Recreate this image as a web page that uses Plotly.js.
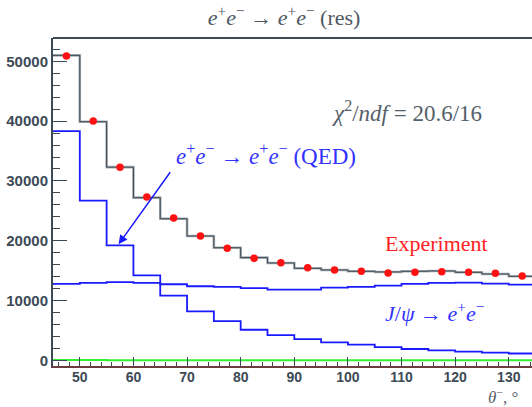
<!DOCTYPE html>
<html>
<head>
<meta charset="utf-8">
<script src="https://cdn.plot.ly/plotly-3.0.1.min.js"></script>
<style>html,body{margin:0;padding:0;background:#fff;}#chart{width:532px;height:407px;}</style>
</head>
<body>
<div id="chart"></div>
<script>
// bin centres (theta^-, degrees), bin width 5
const binCenters = [47.5, 52.5, 57.5, 62.5, 67.5, 72.5, 77.5, 82.5, 87.5, 92.5, 97.5, 102.5, 107.5, 112.5, 117.5, 122.5, 127.5, 132.5];
const binWidth = 5;
const experiment = [50900, 40000, 32300, 27300, 23780, 20780, 18720, 17050, 16330, 15500, 15110, 14890, 14610, 14720, 14830, 14720, 14560, 14110];
const fitTotal   = [51000, 39900, 32300, 27200, 23670, 20780, 18830, 17170, 16280, 15390, 15110, 14890, 14780, 14890, 14940, 14720, 14440, 14050];
const jpsi       = [12780, 12940, 13060, 12940, 12720, 12390, 12280, 12060, 11830, 11830, 12170, 12280, 12500, 12780, 12940, 13000, 12830, 12670];
const qed        = [38330, 26720, 19220, 14220, 10830, 8170, 6560, 5110, 4220, 3560, 3000, 2610, 2220, 1890, 1670, 1450, 1280, 1140];
const background = [40, 40, 30, 30, 30, 30, 30, 30, 30, 30, 30, 30, 30, 30, 30, 30, 30, 30];
const xTickVals = [50, 60, 70, 80, 90, 100, 110, 120, 130];
const yTickVals = [0, 10000, 20000, 30000, 40000, 50000];

function stepTrace(vals, color, width) {
  const xs = binCenters.map(c => c - binWidth / 2);
  xs.push(binCenters[binCenters.length - 1] + binWidth / 2);
  const ys = vals.slice();
  ys.push(vals[vals.length - 1]);
  return {x: xs, y: ys, type: 'scatter', mode: 'lines',
          line: {shape: 'hv', color: color, width: width}, hoverinfo: 'skip', showlegend: false};
}

const traces = [
  stepTrace(background, '#33ee33', 2),
  stepTrace(jpsi, '#1a1aff', 1.8),
  stepTrace(qed, '#1a1aff', 1.8),
  stepTrace(fitTotal, '#a9b0b5', 2.6),
  stepTrace(fitTotal, '#3b4650', 1),
  {x: binCenters, y: experiment, type: 'scatter', mode: 'markers',
   marker: {color: '#ff1111', size: 7.5}, showlegend: false}
];

const grey = '#3c4a56';
const yTickFont = {family: 'Liberation Sans, Arial, sans-serif', size: 15, color: grey, weight: 700};
const xTickFont = {family: 'Liberation Sans, Arial, sans-serif', size: 14, color: grey, weight: 700};
const serif = 'Liberation Serif, Times New Roman, serif';

function note(x, y, text, size, color) {
  return {xref: 'paper', yref: 'paper', x: x, y: y, xanchor: 'center', yanchor: 'middle',
          showarrow: false, text: text, font: {family: serif, size: size, color: color}};
}

const layout = {
  width: 532, height: 407,
  margin: {l: 53, r: 0, t: 38, b: 41},
  paper_bgcolor: '#fff', plot_bgcolor: '#fff',
  showlegend: false,
  title: {text: '<i>e</i><sup>+</sup><i>e</i><sup>−</sup> → <i>e</i><sup>+</sup><i>e</i><sup>−</sup> (res)',
          x: 0.534, xanchor: 'center', y: 0.958, yanchor: 'middle',
          font: {family: serif, size: 22, color: '#4d5963'}},
  xaxis: {range: [45, 134.33], tickvals: xTickVals, ticks: 'inside', ticklen: 9, tickwidth: 1, tickcolor: grey,
          minor: {dtick: 2, ticks: 'inside', ticklen: 4, tickcolor: grey, showgrid: false},
          showgrid: false, zeroline: false, showline: true, linecolor: '#6b3d3f', linewidth: 2,
          tickfont: xTickFont, tickformat: 'd', ticklabelstandoff: -3},
  yaxis: {range: [-950, 53900], tickvals: yTickVals, ticks: 'inside', ticklen: 14, tickwidth: 1, tickcolor: grey,
          minor: {dtick: 2000, ticks: 'inside', ticklen: 7, tickcolor: grey, showgrid: false},
          showgrid: false, zeroline: false, showline: true, linecolor: grey, linewidth: 2,
          tickfont: yTickFont, tickformat: 'd'},
  shapes: [
    {type: 'line', xref: 'paper', yref: 'paper', x0: 0, x1: 1, y0: 1, y1: 1, line: {color: grey, width: 2}}
  ],
  annotations: [
    note(0.739, 0.775, '<i>χ</i><sup>2</sup>/<i>ndf</i> = 20.6/16', 23, '#55606a'),
    note(0.4457, 0.646, '<i>e</i><sup>+</sup><i>e</i><sup>−</sup> → <i>e</i><sup>+</sup><i>e</i><sup>−</sup> (QED)', 23, '#3333ff'),
    note(0.7996, 0.372, 'Experiment', 22, '#ff2222'),
    note(0.797, 0.165, '<i>J</i>/<i>ψ</i> → <i>e</i><sup>+</sup><i>e</i><sup>−</sup>', 22, '#3333ff'),
    note(0.94, -0.092, '<i>θ</i><sup>−</sup>, °', 17, '#55606a'),
    {xref: 'x', yref: 'y', x: 57.23, y: 19400, axref: 'x', ayref: 'y', ax: 67.06, ay: 31700,
     text: '', showarrow: true, arrowhead: 2, arrowsize: 1.2, arrowwidth: 1.5, arrowcolor: '#1a1aff'}
  ]
};

Plotly.newPlot('chart', traces, layout, {displayModeBar: false, staticPlot: true});
</script>
</body>
</html>
